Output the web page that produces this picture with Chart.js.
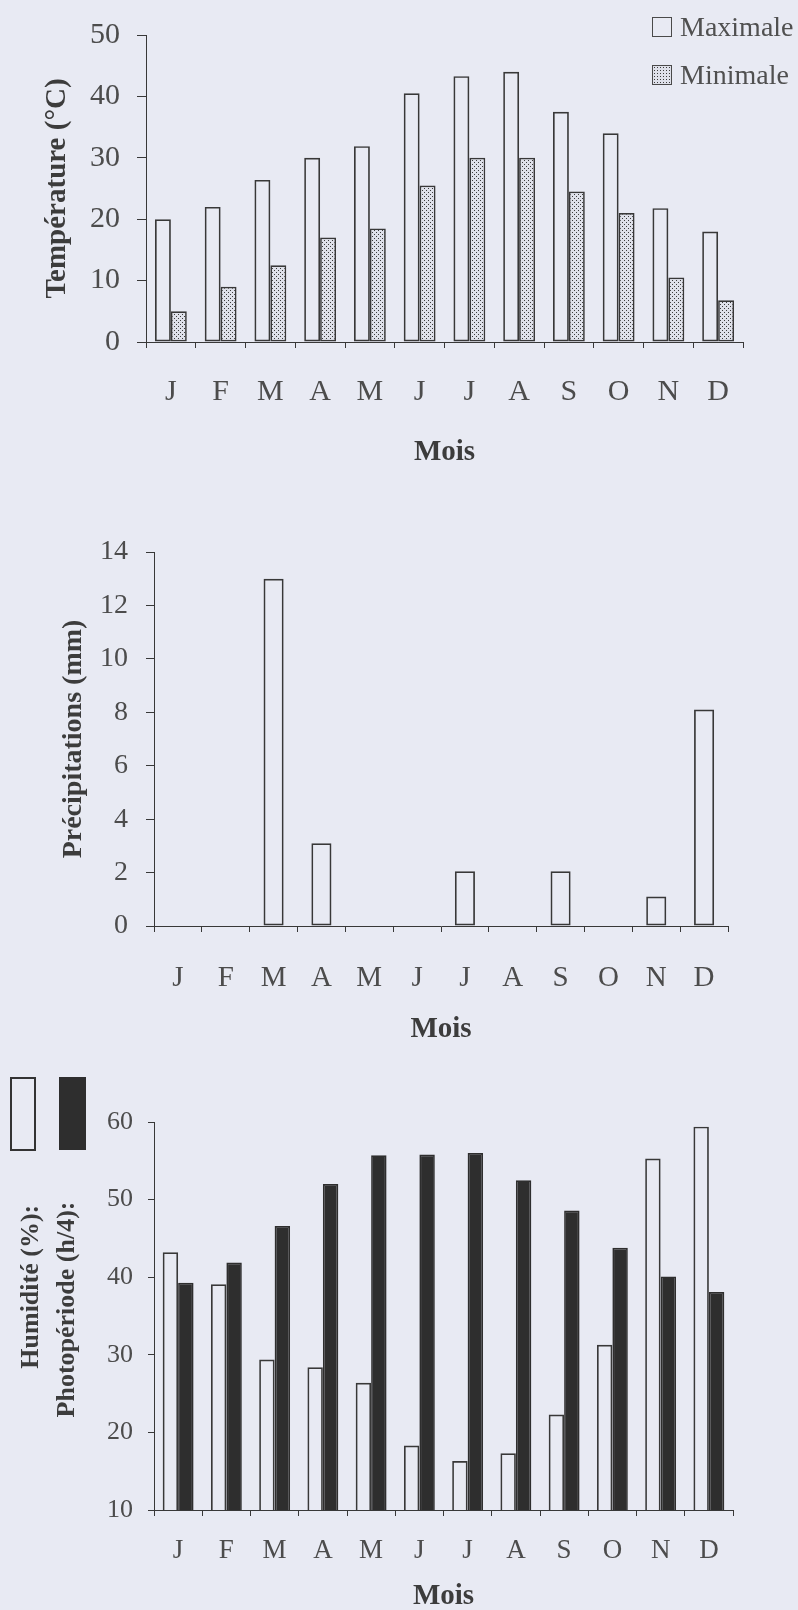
<!DOCTYPE html>
<html>
<head>
<meta charset="utf-8">
<script src="https://cdn.jsdelivr.net/npm/chart.js@4.4.1/dist/chart.umd.min.js"></script>
<style>
  body { margin: 0; width: 798px; height: 1610px; overflow: hidden; position: relative;
         background: #e8eaf3; font-family: "Liberation Serif", serif; }
  .panel { position: absolute; left: 0; width: 798px; }
  .sw { position: absolute; width: 20px; height: 20px; box-sizing: border-box; border: 1.5px solid #4a4a4a; }
  .lg { position: absolute; font-size: 28px; line-height: 34px; color: #505050; }
  .dotted { background-color: #dfe1ea;
            background-image: radial-gradient(circle, #3c3c3c 38%, transparent 46%);
            background-size: 3px 3px; }
</style>
</head>
<body>
<div class="panel" style="top:0;height:500px"><canvas id="temp" width="798" height="500"></canvas></div>
<div class="panel" style="top:500px;height:560px"><canvas id="rain" width="798" height="560"></canvas></div>
<div class="panel" style="top:1060px;height:555px"><canvas id="hum" width="798" height="555"></canvas></div>

<!-- legends -->
<div class="sw" style="left:652px;top:17px"></div>
<div class="lg" style="left:680px;top:10px">Maximale</div>
<div class="sw dotted" style="left:652px;top:65px"></div>
<div class="lg" style="left:680px;top:58px">Minimale</div>

<div style="position:absolute;left:10px;top:1077px;width:26px;height:74px;box-sizing:border-box;border:2px solid #333"></div>
<div style="position:absolute;left:59px;top:1077px;width:27px;height:73px;background:#2e2e2e"></div>

<script>
const months = ['J','F','M','A','M','J','J','A','S','O','N','D'];

// Température (°C)
const tempMax = [20, 22, 26.4, 30, 31.9, 40.5, 43.3, 44, 37.5, 34, 21.8, 18];
const tempMin = [5, 9, 12.5, 17, 18.5, 25.5, 30, 30, 24.5, 21, 10.5, 6.8];

// Précipitations (mm)
const precip = [0, 0, 13, 3.1, 0, 0, 2.05, 0, 2.05, 0, 1.1, 8.1];

// Humidité (%) et Photopériode (h/4)
const humidity = [43.2, 39.1, 29.4, 28.4, 26.4, 18.3, 16.3, 17.3, 22.3, 31.3, 55.3, 59.4];
const photoperiod = [39.3, 41.9, 46.6, 52, 55.7, 55.8, 56, 52.5, 48.6, 43.8, 40.1, 38.1];

const ink = '#383838';
const textCol = '#4c4c4c';
const titleCol = '#3c3c3c';
const serif = '"Liberation Serif", "Times New Roman", serif';

// stippled fill for the "Minimale" bars
function dots(){
  const c = document.createElement('canvas');
  c.width = 4; c.height = 4;
  const g = c.getContext('2d');
  g.fillStyle = '#dfe1ea';
  g.fillRect(0, 0, 4, 4);
  g.fillStyle = '#3c3c3c';
  g.fillRect(0, 0, 1, 1);
  g.fillRect(2, 2, 1, 1);
  return g.createPattern(c, 'repeat');
}

function barChart(id, datasets, o){
  return new Chart(document.getElementById(id), {
    type: 'bar',
    data: { labels: months, datasets: datasets },
    options: {
      responsive: false,
      animation: false,
      layout: { padding: o.pad },
      plugins: { legend: { display: false }, tooltip: { enabled: false } },
      datasets: { bar: { categoryPercentage: o.cat, barPercentage: 1, borderWidth: 1.7,
                         borderColor: ink, borderSkipped: false } },
      scales: {
        x: {
          grid: { drawOnChartArea: false, tickLength: 6, color: ink, offset: true },
          border: { color: ink, width: 1 },
          ticks: { color: textCol, padding: o.xPad, font: { family: serif, size: o.xFont } },
          title: { display: true, text: 'Mois', color: titleCol,
                   font: { family: serif, size: 29, weight: 'bold' },
                   padding: { top: 0, bottom: o.moisPad } },
          afterFit: s => { s.height = o.xH; }
        },
        y: {
          min: o.min, max: o.max,
          grid: { drawOnChartArea: false, tickLength: o.yTick, color: ink },
          border: { color: ink, width: 1 },
          ticks: { stepSize: o.step, color: textCol, padding: o.yPad,
                   font: { family: serif, size: o.yFont } },
          title: { display: true, text: o.yTitle, color: titleCol,
                   font: { family: serif, size: o.tFont, weight: 'bold', lineHeight: o.tLine || 1.2 },
                   padding: { top: o.tPad, bottom: 0 } },
          afterFit: s => { s.width = o.yW; }
        }
      }
    }
  });
}

barChart('temp', [
  { label: 'Maximale', data: tempMax, backgroundColor: 'rgba(0,0,0,0)' },
  { label: 'Minimale', data: tempMin, backgroundColor: dots() }
], {
  pad: { left: 20, top: 21, right: 55, bottom: 0 }, cat: 0.64,
  xH: 158, xPad: 26, xFont: 30, moisPad: 30,
  min: 0, max: 50, step: 10, yTick: 9, yPad: 17, yFont: 30, yW: 126,
  yTitle: 'Température (°C)', tFont: 29, tPad: 20
});

barChart('rain', [
  { label: 'Précipitations', data: precip, backgroundColor: 'rgba(0,0,0,0)' }
], {
  pad: { left: 20, top: 52, right: 70, bottom: 0 }, cat: 0.42,
  xH: 134, xPad: 29, xFont: 29, moisPad: 13,
  min: 0, max: 14, step: 2, yTick: 8, yPad: 18, yFont: 28, yW: 134,
  yTitle: 'Précipitations (mm)', tFont: 28, tPad: 37
});

barChart('hum', [
  { label: 'Humidité', data: humidity, backgroundColor: 'rgba(0,0,0,0)' },
  { label: 'Photopériode', data: photoperiod, backgroundColor: '#2e2e2e', borderColor: '#2e2e2e' }
], {
  pad: { left: 5, top: 62, right: 65, bottom: 0 }, cat: 0.64,
  xH: 105, xPad: 19, xFont: 27, moisPad: 1,
  min: 10, max: 60, step: 10, yTick: 6, yPad: 15, yFont: 26, yW: 149,
  yTitle: ['\u00a0'.repeat(9) + 'Humidité (%):', '\u00a0\u00a0Photopériode (h/4):'],
  tFont: 26, tLine: 1.4, tPad: 8
});
</script>
</body>
</html>
